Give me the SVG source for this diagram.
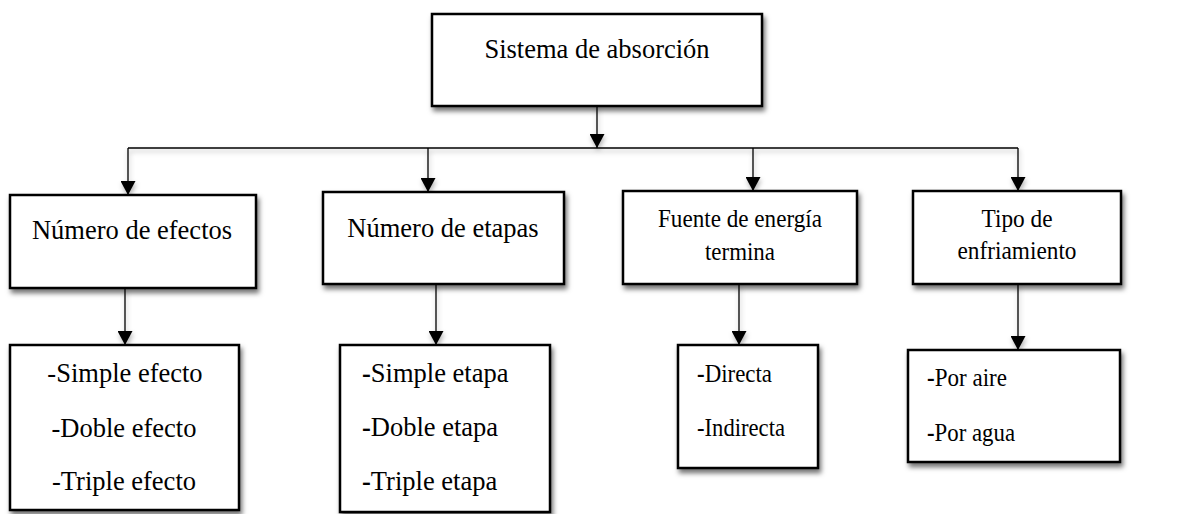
<svg xmlns="http://www.w3.org/2000/svg" width="1201" height="514" viewBox="0 0 1201 514">
<defs>
<filter id="sh" x="-10%" y="-10%" width="125%" height="130%">
<feDropShadow dx="2" dy="4" stdDeviation="2.5" flood-color="#000" flood-opacity="0.55"/>
</filter>
<filter id="lsh" x="-5%" y="-50%" width="110%" height="300%">
<feDropShadow dx="1" dy="3" stdDeviation="2.5" flood-color="#000" flood-opacity="0.3"/>
</filter>
<marker id="ah" markerUnits="userSpaceOnUse" markerWidth="16" markerHeight="15" refX="15" refY="8" orient="auto" viewBox="0 0 16 16">
<path d="M0,0 L15,8 L0,16 Z" fill="#000"/>
</marker>
</defs>
<style>
.box{fill:#fff;stroke:#000;stroke-width:2.5;filter:url(#sh)}
text{font-family:'Liberation Serif','DejaVu Serif',serif;fill:#000}
.t{font-size:26.5px}
.c{text-anchor:middle}
.n{font-size:25.5px}
.b{font-weight:bold}
.ln{fill:none;stroke:#000;stroke-width:1.3}
.ar{fill:none;stroke:#000;stroke-width:1.3;marker-end:url(#ah)}
</style>
<g id="connectors" filter="url(#lsh)">
<line class="ar" x1="597" y1="106" x2="597" y2="148"/>
<line class="ln" x1="128" y1="148" x2="1018" y2="148"/>
<line class="ar" x1="128" y1="148" x2="128" y2="195"/>
<line class="ar" x1="428" y1="148" x2="428" y2="192"/>
<line class="ar" x1="753" y1="148" x2="753" y2="191"/>
<line class="ar" x1="1018" y1="148" x2="1018" y2="191"/>
<line class="ar" x1="125" y1="288" x2="125" y2="345"/>
<line class="ar" x1="436" y1="284" x2="436" y2="345"/>
<line class="ar" x1="739" y1="284" x2="739" y2="345"/>
<line class="ar" x1="1018" y1="284" x2="1018" y2="350"/>
</g>
<g id="root">
<rect class="box" x="432" y="14" width="330" height="92"/>
<text class="t c" x="597" y="58" font-family="Liberation Serif, serif">Sistema de absorción</text>
</g>
<g id="efectos">
<rect class="box" x="10" y="195" width="246" height="93"/>
<text class="t c" x="132" y="239" font-family="Liberation Serif, serif">Número de efectos</text>
</g>
<g id="etapas">
<rect class="box" x="323" y="192" width="241" height="92"/>
<text class="t c" x="443" y="237" font-family="Liberation Serif, serif">Número de etapas</text>
</g>
<g id="fuente">
<rect class="box" x="623" y="191" width="234" height="93"/>
<text class="n c" x="740" y="227" textLength="164" lengthAdjust="spacingAndGlyphs" font-family="Liberation Serif, serif">Fuente de energía</text>
<text class="n c" x="740" y="260" textLength="70" lengthAdjust="spacingAndGlyphs" font-family="Liberation Serif, serif">termina</text>
</g>
<g id="tipo">
<rect class="box" x="913" y="191" width="208" height="93"/>
<text class="n c" x="1017" y="227" textLength="71" lengthAdjust="spacingAndGlyphs" font-family="Liberation Serif, serif">Tipo de</text>
<text class="n c" x="1017" y="259" textLength="119" lengthAdjust="spacingAndGlyphs" font-family="Liberation Serif, serif">enfriamiento</text>
</g>
<g id="efectos-list">
<rect class="box" x="10" y="345" width="229" height="165"/>
<text class="t c" x="125" y="382" font-family="Liberation Serif, serif">-Simple efecto</text>
<text class="t c" x="124" y="437" font-family="Liberation Serif, serif">-Doble efecto</text>
<text class="t c" x="124" y="490" font-family="Liberation Serif, serif">-Triple efecto</text>
</g>
<g id="etapas-list">
<rect class="box" x="340" y="345" width="210" height="167"/>
<text class="t" x="362" y="382" font-family="Liberation Serif, serif"><tspan class="b">-</tspan>Simple etapa</text>
<text class="t" x="362" y="436" font-family="Liberation Serif, serif"><tspan class="b">-</tspan>Doble etapa</text>
<text class="t" x="362" y="490" font-family="Liberation Serif, serif"><tspan class="b">-</tspan>Triple etapa</text>
</g>
<g id="fuente-list">
<rect class="box" x="678" y="345" width="140" height="123"/>
<text class="n" x="697" y="382" textLength="75" lengthAdjust="spacingAndGlyphs" font-family="Liberation Serif, serif"><tspan class="b">-</tspan>Directa</text>
<text class="n" x="697" y="436" textLength="88" lengthAdjust="spacingAndGlyphs" font-family="Liberation Serif, serif">-Indirecta</text>
</g>
<g id="tipo-list">
<rect class="box" x="908" y="350" width="212" height="112"/>
<text class="n" x="927" y="386" textLength="80" lengthAdjust="spacingAndGlyphs" font-family="Liberation Serif, serif"><tspan class="b">-</tspan>Por aire</text>
<text class="n" x="927" y="441" textLength="88" lengthAdjust="spacingAndGlyphs" font-family="Liberation Serif, serif"><tspan class="b">-</tspan>Por agua</text>
</g>
</svg>
